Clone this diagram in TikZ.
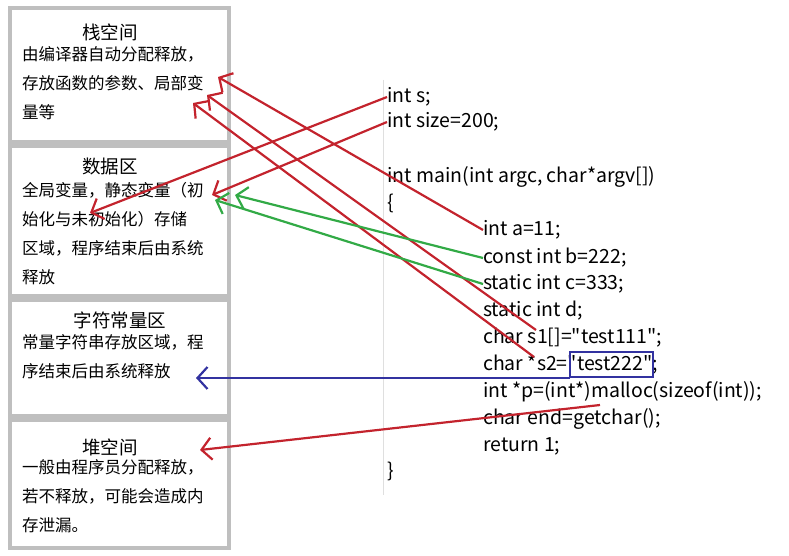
\documentclass[tikz,border=0pt]{standalone}
\usepackage{fontspec}
\setmainfont{Noto Sans CJK SC}
\newfontfamily\codefont{Noto Sans CJK SC}
\usetikzlibrary{arrows.meta}
\definecolor{arrred}{RGB}{195,35,45}
\definecolor{arrgreen}{RGB}{50,170,70}
\definecolor{arrblue}{RGB}{50,50,160}
\tikzset{
  area/.style={draw=gray!50,line width=4pt},
  title/.style={font=\fontsize{18.5}{18.5}\selectfont},
  desc/.style={anchor=north west,align=left,inner sep=0pt,font=\fontsize{16.5}{29}\selectfont},
  code/.style={anchor=west,inner sep=0pt,font=\codefont\fontsize{19.5}{19.5}\selectfont},
  ptr/.style={line width=2.2pt,-{Straight Barb[length=10pt,width=22pt]}}
}
\begin{document}
\begin{tikzpicture}[x=1pt,y=-1pt]
  \useasboundingbox (0,0) rectangle (789,556);
  % memory areas
  \draw[area] (10,8) rectangle (229,142);
  \draw[area] (10,146) rectangle (229,296);
  \draw[area] (10,300) rectangle (229,416);
  \draw[area] (10,420) rectangle (229,548);
  \node[title] (stack) at (110,32) {栈空间};
  \node[desc] (stackd) at (22,46) {由编译器自动分配释放，\\存放函数的参数、局部变\\量等};
  \node[title] (data) at (110,166) {数据区};
  \node[desc] (datad) at (22,182) {全局变量，静态变量（初\\始化与未初始化）存储\\区域，程序结束后由系统\\释放};
  \node[title] (const) at (120,320) {字符常量区};
  \node[desc] (constd) at (22,334) {常量字符串存放区域，程\\序结束后由系统释放};
  \node[title] (heap) at (110,447) {堆空间};
  \node[desc] (heapd) at (22,459) {一般由程序员分配释放，\\若不释放，可能会造成内\\存泄漏。};
  % code
  \draw[gray!25] (383,80) -- (383,495);
  \node[code] (ls) at (387,97) {int s;};
  \node[code] (lsize) at (387,122) {int size=200;};
  \node[code] (lmain) at (387,177) {int main(int argc, char*argv[])};
  \node[code] (lopen) at (387,203) {\{};
  \node[code] (la) at (483,230) {int a=11;};
  \node[code] (lb) at (483,258) {const int b=222;};
  \node[code] (lc) at (483,284) {static int c=333;};
  \node[code] (ld) at (483,311) {static int d;};
  \node[code] (ls1) at (483,338) {char s1[]="test111";};
  \node[code] (ls2) at (483,365) {char *s2="test222";};
  \node[code] (lp) at (483,392) {int *p=(int*)malloc(sizeof(int));};
  \node[code] (lend) at (483,419) {char end=getchar();};
  \node[code] (lret) at (483,446) {return 1;};
  \node[code] (lclose) at (387,471) {\}};
  \draw[arrblue,line width=2pt] (570,352) rectangle (653,377);
  \coordinate (str) at (570,378);
  % pointers
  \draw[ptr,arrred] (ls.west) -- (90,213);
  \draw[ptr,arrred] (lsize.west) -- (212,195);
  \draw[ptr,arrred] (la.west) -- (218,77);
  \draw[ptr,arrred] (536,330) -- (207,95);
  \draw[ptr,arrred] (534,357) -- (193,103);
  \draw[ptr,arrgreen] (lb.west) -- (235,195);
  \draw[ptr,arrgreen] (lc.west) -- (215,200);
  \draw[ptr,arrblue] (str) -- (196,378);
  \draw[ptr,arrred] (600,405) -- (200,450);
\end{tikzpicture}
\end{document}
